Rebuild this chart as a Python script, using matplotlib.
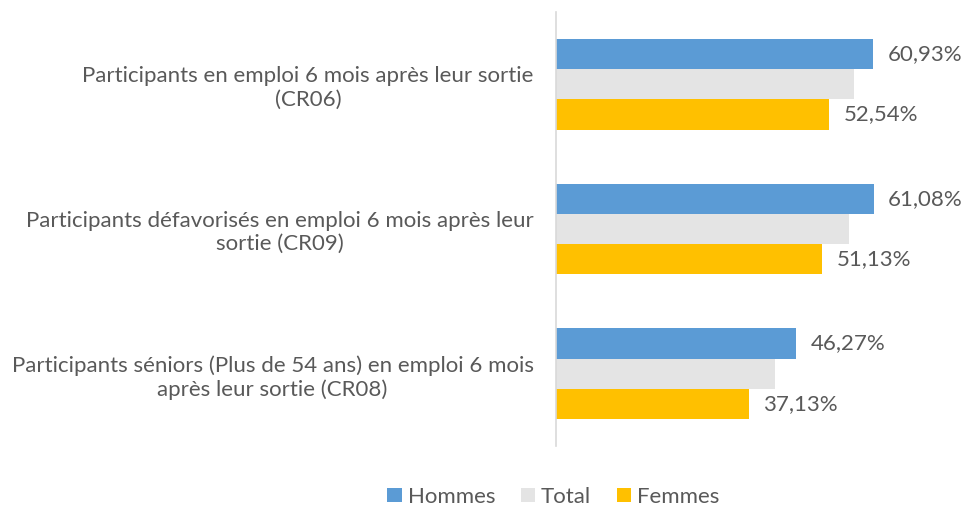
import matplotlib
matplotlib.use('Agg')
import matplotlib.pyplot as plt
from matplotlib.patches import Patch
import numpy as np

# data
categories = [
    "Participants en emploi 6 mois après leur sortie\n(CR06)",
    "Participants défavorisés en emploi 6 mois après leur\nsortie (CR09)",
    "Participants séniors (Plus de 54 ans) en emploi 6 mois\naprès leur sortie (CR08)",
]
hommes = [60.93, 61.08, 46.27]
total = [57.3, 56.4, 42.2]
femmes = [52.54, 51.13, 37.13]

series_names = ["Hommes", "Total", "Femmes"]
colors = ["#5B9BD5", "#E4E4E4", "#FFC000"]
text_color = "#595959"

plt.rcParams['font.family'] = ['Lato', 'DejaVu Sans']
fs = 16

fig = plt.figure(figsize=(9.64, 5.05), dpi=100)
ax = fig.add_axes([0.5765, 0.1168, 0.3778, 0.8594])

y = np.arange(len(categories))
h = 0.209
for vals, off, col in zip([hommes, total, femmes], [-h, 0, h], colors):
    ax.barh(y + off, vals, height=h, color=col, edgecolor='none')

# value labels only for Hommes and Femmes
def fmt(v):
    return f"{v:.2f}".replace('.', ',') + "%"

for vals, off in [(hommes, -h), (femmes, h)]:
    for yi, v in zip(y, vals):
        ax.annotate(fmt(v), (v, yi + off), xytext=(10.5, 0), textcoords='offset points',
                    va='center', ha='left', fontsize=fs, color=text_color)

ax.set_xlim(0, 70)
ax.set_ylim(len(categories) - 0.5, -0.5)
ax.set_yticks(y)
ax.set_yticklabels(categories, fontsize=fs, color=text_color, linespacing=1.2)
for lab in ax.get_yticklabels():
    lab.set_multialignment('center')
ax.tick_params(axis='y', length=0, pad=16)
ax.set_xticks([])

for s in ['top', 'right', 'bottom']:
    ax.spines[s].set_visible(False)
ax.spines['left'].set_color('#D9D9D9')
ax.spines['left'].set_linewidth(1.2)

handles = [Patch(facecolor=c, edgecolor='none', label=n) for n, c in zip(series_names, colors)]
leg = fig.legend(handles=handles, loc='center', bbox_to_anchor=(0.574, 0.016), ncol=3,
                 frameon=False, fontsize=fs, handlelength=0.64, handleheight=0.64,
                 handletextpad=0.27, columnspacing=1.15)
for t in leg.get_texts():
    t.set_color(text_color)

fig.savefig('out.png', dpi=100)
